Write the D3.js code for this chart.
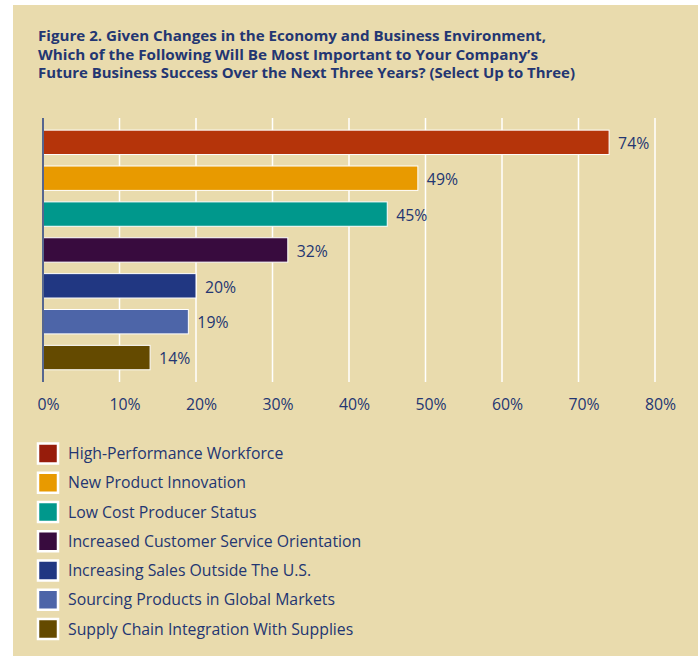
<!DOCTYPE html>
<html>
<head>
<meta charset="utf-8">
<script src="https://cdn.jsdelivr.net/npm/d3@7"></script>
<style>
  html, body { margin: 0; padding: 0; background: #ffffff; }
  svg { display: block; }
</style>
</head>
<body>
<svg id="chart" width="698" height="656"></svg>
<script>
const titleLines = [
  "Figure 2. Given Changes in the Economy and Business Environment,",
  "Which of the Following Will Be Most Important to Your Company\u2019s",
  "Future Business Success Over the Next Three Years? (Select Up to Three)"
];
const categories = [
  "High-Performance Workforce",
  "New Product Innovation",
  "Low Cost Producer Status",
  "Increased Customer Service Orientation",
  "Increasing Sales Outside The U.S.",
  "Sourcing Products in Global Markets",
  "Supply Chain Integration With Supplies"
];
const values = [74, 49, 45, 32, 20, 19, 14];
const colors = ["#b5340a", "#e89a00", "#00988c", "#380b3e", "#213782", "#4d65a8", "#644a00"];
const legendColors = ["#971c0b", "#e89a00", "#00988c", "#380b3e", "#213782", "#4d65a8", "#644a00"];
const tickValues = [0, 10, 20, 30, 40, 50, 60, 70, 80];

const svg = d3.select("#chart");
const W = 698, H = 656;
const ink = "#233672";
const font = "'Open Sans', sans-serif";
const fs = 15.8;

// background panel
svg.append("rect").attr("x", 13).attr("y", 5).attr("width", W - 13).attr("height", H - 5)
  .attr("fill", "#e9dbad");

// title
const titleWidths = [508, 500, 537];
svg.append("g").selectAll("text").data(titleLines).join("text")
  .attr("x", 38).attr("y", (d, i) => 41 + i * 18.5)
  .attr("font-family", font).attr("font-weight", 700).attr("font-size", 15)
  .attr("fill", ink)
  .attr("textLength", (d, i) => titleWidths[i]).attr("lengthAdjust", "spacingAndGlyphs")
  .text(d => d);

// scales
const x = d3.scaleLinear().domain([0, 80]).range([43, 655]);
const y = d3.scaleBand().domain(categories).range([124.4, 375.5]).paddingInner(0.32).paddingOuter(0.16);
const gridTop = 118, gridBottom = 382;

// gridlines
svg.append("g").selectAll("line").data(tickValues.slice(1)).join("line")
  .attr("x1", d => x(d)).attr("x2", d => x(d))
  .attr("y1", gridTop).attr("y2", gridBottom)
  .attr("stroke", "#ffffff").attr("stroke-width", 1.5);

// bars
svg.append("g").selectAll("rect").data(values).join("rect")
  .attr("x", x(0)).attr("y", (d, i) => y(categories[i]))
  .attr("width", d => x(d) - x(0)).attr("height", y.bandwidth())
  .attr("fill", (d, i) => colors[i])
  .attr("stroke", "#ffffff").attr("stroke-width", 1);

// axis line
svg.append("line").attr("x1", x(0)).attr("x2", x(0)).attr("y1", gridTop).attr("y2", gridBottom)
  .attr("stroke", "#56668f").attr("stroke-width", 2);

// value labels
svg.append("g").selectAll("text").data(values).join("text")
  .attr("x", d => x(d) + 9).attr("y", (d, i) => y(categories[i]) + y.bandwidth() / 2 + 1)
  .attr("dy", "0.36em")
  .attr("font-family", font).attr("font-size", fs).attr("fill", ink)
  .text(d => d + "%");

// x axis tick labels
const xAxis = d3.axisBottom(x).tickValues(tickValues).tickFormat(d => d + "%").tickSize(0).tickPadding(0);
const gx = svg.append("g").attr("transform", `translate(5, 399)`).call(xAxis);
gx.select(".domain").remove();
gx.selectAll("text").attr("font-family", font).attr("font-size", fs).attr("fill", ink).attr("dy", "0.71em");

// legend
const legend = svg.append("g").selectAll("g").data(categories).join("g")
  .attr("transform", (d, i) => `translate(0, ${453.5 + i * 29.25})`);
legend.append("rect").attr("x", 38).attr("y", -10).attr("width", 20).attr("height", 20)
  .attr("fill", (d, i) => legendColors[i]).attr("stroke", "#ffffff").attr("stroke-width", 2.5);
legend.append("text").attr("x", 68).attr("y", 0).attr("dy", "0.36em")
  .attr("font-family", font).attr("font-size", fs).attr("fill", ink)
  .text(d => d);
</script>
</body>
</html>
